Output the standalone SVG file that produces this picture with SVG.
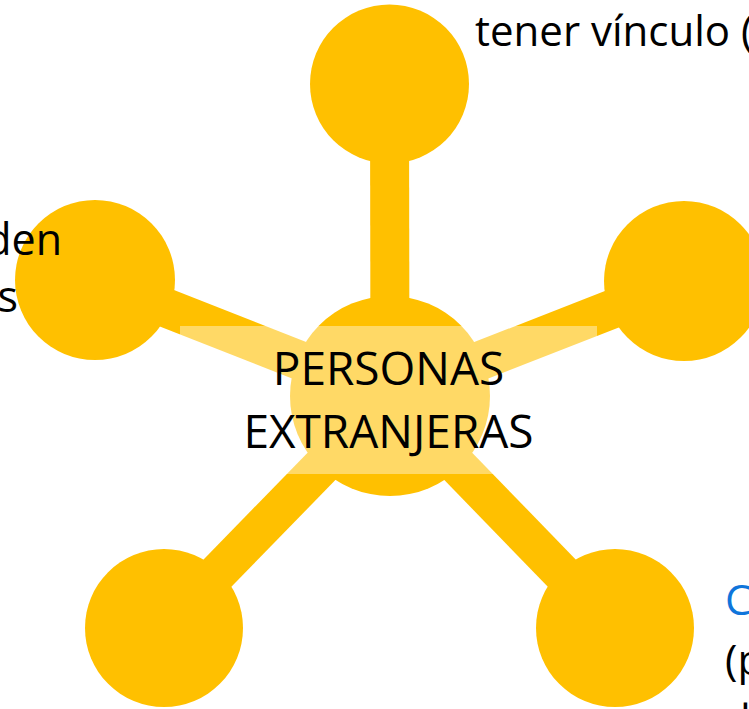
<svg xmlns="http://www.w3.org/2000/svg" width="749" height="709" viewBox="0 0 749 709">
  <style>
    .link { stroke: #FFC000; stroke-width: 39; fill: none; }
    .node { fill: #FFC000; }
    .txt { font-family: "Open Sans", "Liberation Sans", Arial, sans-serif; fill: #000000; }
  </style>
  <rect x="0" y="0" width="749" height="709" fill="#FFFFFF"/>
  <g id="connectors">
    <line class="link" x1="390" y1="396" x2="389.5" y2="84"/>
    <line class="link" x1="390" y1="396" x2="95" y2="280"/>
    <line class="link" x1="390" y1="396" x2="684" y2="281"/>
    <line class="link" x1="390" y1="396" x2="164" y2="628"/>
    <line class="link" x1="390" y1="396" x2="615" y2="628"/>
  </g>
  <g id="node-center">
    <circle class="node" cx="390" cy="396" r="100"/>
    <rect x="180" y="326" width="417" height="148" fill="#FFFFFF" fill-opacity="0.4"/>
    <text class="txt" x="388.5" y="385" font-size="46" text-anchor="middle">PERSONAS</text>
    <text class="txt" x="388.5" y="448" font-size="46" text-anchor="middle">EXTRANJERAS</text>
  </g>
  <g id="node-top">
    <circle class="node" cx="389.5" cy="84" r="79.5"/>
    <text class="txt" x="475" y="46" font-size="42">tener vínculo (</text>
  </g>
  <g id="node-left">
    <circle class="node" cx="95" cy="280" r="80"/>
    <text class="txt" x="62" y="255" font-size="43" text-anchor="end">den</text>
    <text class="txt" x="18" y="312" font-size="43" text-anchor="end">s</text>
  </g>
  <g id="node-right">
    <circle class="node" cx="684" cy="281" r="80"/>
  </g>
  <g id="node-bottom-left">
    <circle class="node" cx="164" cy="628" r="79"/>
  </g>
  <g id="node-bottom-right">
    <circle class="node" cx="615" cy="628" r="79"/>
    <text class="txt" x="725" y="615" font-size="42" style="fill:#0F75DB">C</text>
    <text class="txt" x="725" y="675" font-size="42">(p</text>
    <text class="txt" x="725" y="735" font-size="42">d</text>
  </g>
</svg>
